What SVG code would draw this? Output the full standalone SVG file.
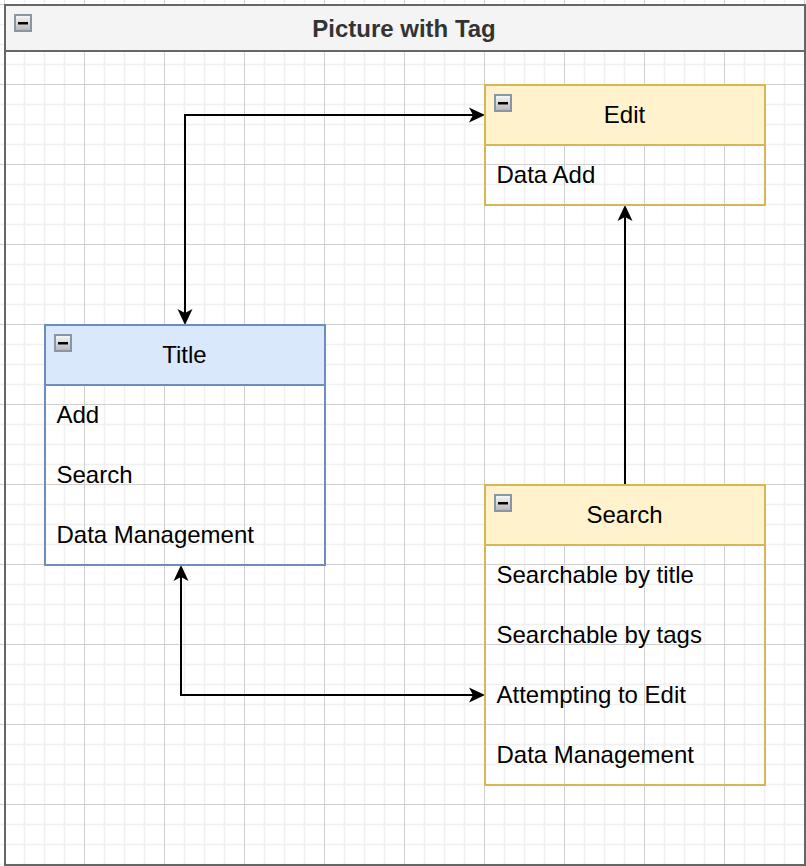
<svg xmlns="http://www.w3.org/2000/svg" width="806" height="866" viewBox="0 0 806 866">
  <defs>
    <pattern id="grid" x="4" y="4" width="80" height="80" patternUnits="userSpaceOnUse">
      <path d="M20.5,0 V80 M40.5,0 V80 M60.5,0 V80 M0,20.5 H80 M0,40.5 H80 M0,60.5 H80" stroke="#f0f0f0" stroke-width="1.5" fill="none"/>
      <path d="M0.5,0 V80 M0,0.5 H80" stroke="#d0d0d0" stroke-width="1" fill="none"/>
    </pattern>
    <linearGradient id="iconFill" x1="0" y1="0" x2="0" y2="1">
      <stop offset="0" stop-color="#fafafa"/>
      <stop offset="1" stop-color="#b4b4b4"/>
    </linearGradient>
    <g id="collapse">
      <rect x="1" y="1" width="16" height="16" fill="url(#iconFill)" stroke="#8c95a3" stroke-width="2"/>
      <rect x="4" y="8" width="10" height="2.5" fill="#000"/>
    </g>
    <marker id="arrow" viewBox="-17 -8 18 16" refX="-12" refY="0" markerWidth="18" markerHeight="16" markerUnits="userSpaceOnUse" orient="auto-start-reverse">
      <path d="M0,0 L-16,-7.5 L-12,0 L-16,7.5 Z" fill="#000"/>
    </marker>
  </defs>
  <style>
    .t { font-family: "Liberation Sans", Arial, Helvetica, sans-serif; font-size: 24px; fill: #000; }
    .c { text-anchor: middle; }
    .h { font-weight: bold; fill: #333333; }
    .yel { fill: #fff2cc; stroke: #d6b656; stroke-width: 2; }
    .blu { fill: #dae8fc; stroke: #6c8ebf; stroke-width: 2; }
    .body { fill: none; stroke-width: 2; }
    .conn { fill: none; stroke: #000; stroke-width: 2; marker-start: url(#arrow); }
  </style>

  <rect width="806" height="866" fill="#ffffff"/>
  <rect width="806" height="866" fill="url(#grid)"/>

  <g id="container">
    <rect x="5" y="5" width="800" height="46" fill="#f4f4f4" stroke="#666666" stroke-width="2"/>
    <rect x="5" y="5" width="800" height="860" fill="none" stroke="#666666" stroke-width="2"/>
    <use href="#collapse" x="14" y="14"/>
    <text class="t c h" x="404" y="37">Picture with Tag</text>
  </g>

  <g id="connectors">
    <path class="conn" d="M185,313 V115 H473" marker-end="url(#arrow)"/>
    <path d="M625,485 V217" fill="none" stroke="#000" stroke-width="2" marker-end="url(#arrow)"/>
    <path class="conn" d="M181,577 V695 H473" marker-end="url(#arrow)"/>
  </g>

  <g id="edit">
    <rect class="body" x="485" y="85" width="280" height="120" stroke="#d6b656"/>
    <rect class="yel" x="485" y="85" width="280" height="60"/>
    <use href="#collapse" x="494" y="94"/>
    <text class="t c" x="624.5" y="122.5">Edit</text>
    <text class="t" x="496.5" y="182.5">Data Add</text>
  </g>

  <g id="title">
    <rect class="body" x="45" y="325" width="280" height="240" stroke="#6c8ebf"/>
    <rect class="blu" x="45" y="325" width="280" height="60"/>
    <use href="#collapse" x="54" y="334"/>
    <text class="t c" x="184.5" y="362.5">Title</text>
    <text class="t" x="56.5" y="422.5">Add</text>
    <text class="t" x="56.5" y="482.5">Search</text>
    <text class="t" x="56.5" y="542.5">Data Management</text>
  </g>

  <g id="search">
    <rect class="body" x="485" y="485" width="280" height="300" stroke="#d6b656"/>
    <rect class="yel" x="485" y="485" width="280" height="60"/>
    <use href="#collapse" x="494" y="494"/>
    <text class="t c" x="624.5" y="522.5">Search</text>
    <text class="t" x="496.5" y="582.5">Searchable by title</text>
    <text class="t" x="496.5" y="642.5">Searchable by tags</text>
    <text class="t" x="496.5" y="702.5">Attempting to Edit</text>
    <text class="t" x="496.5" y="762.5">Data Management</text>
  </g>
</svg>
